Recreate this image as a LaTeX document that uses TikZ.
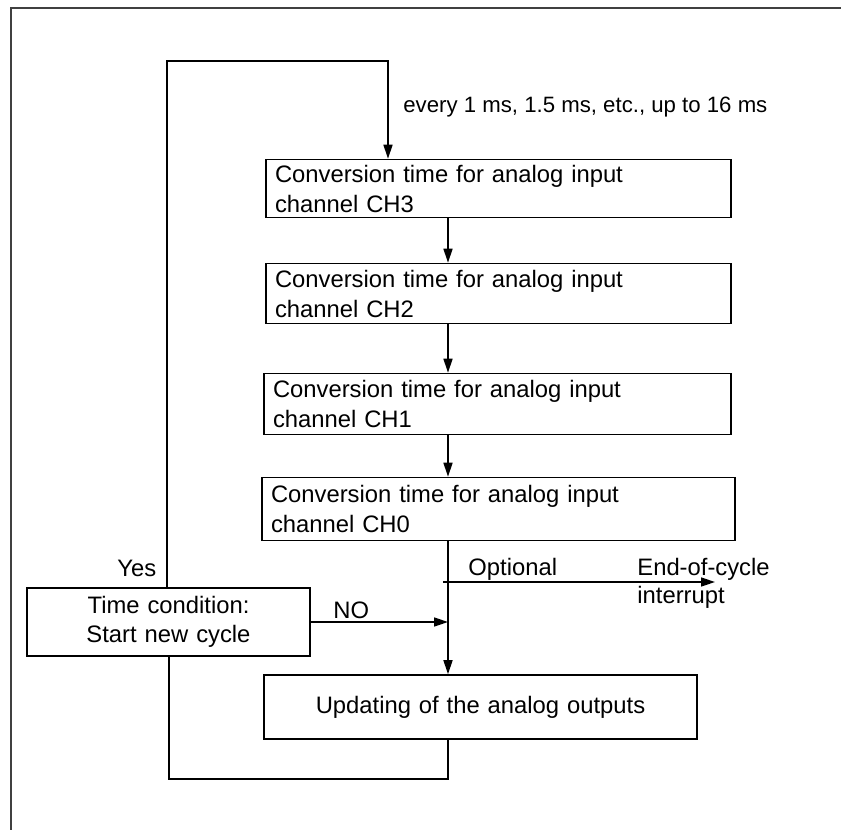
\documentclass[tikz,border=0pt]{standalone}
\usepackage{fontspec}
\setmainfont{Liberation Sans}
\usetikzlibrary{arrows.meta}
\newcommand\flowfont{\fontsize{11.9}{15}\selectfont}
\tikzset{
  stage/.style={draw, rectangle, line width=0.8pt, inner xsep=4.5pt, inner ysep=0pt, font=\flowfont},
  flow/.style={line width=0.8pt, -{Triangle[length=7pt,width=4.5pt]}},
  wire/.style={line width=0.8pt},
  lbl/.style={inner sep=0pt, anchor=base west, font=\flowfont},
}
\begin{document}
\begin{tikzpicture}[x=0.5pt, y=-0.5pt]
  \useasboundingbox (0,0) rectangle (841,830);
  % open frame (top and left edges)
  \draw[line width=1pt, black!75] (841,7.5) -- (10.5,7.5) -- (10.5,830);

  % conversion stages
  \node[stage, align=left, text width=223.5pt, minimum height=29pt] (ch3) at (498.5,188.5)
    {Conversion time for analog input\\channel CH3};
  \node[stage, align=left, text width=223.5pt, minimum height=30pt] (ch2) at (498.5,293.5)
    {Conversion time for analog input\\channel CH2};
  \node[stage, align=left, text width=224.5pt, minimum height=30.5pt] (ch1) at (497.5,404)
    {Conversion time for analog input\\channel CH1};
  \node[stage, align=left, text width=227.5pt, minimum height=31.5pt] (ch0) at (498.5,509)
    {Conversion time for analog input\\channel CH0};
  \node[stage, align=center, text width=132.5pt, minimum height=34pt,
        font=\fontsize{11.9}{14.2}\selectfont] (time) at (168.5,622)
    {Time condition:\\Start new cycle};
  \node[stage, align=center, text width=207.5pt, minimum height=32pt] (update) at (480.5,707)
    {Updating of the analog outputs};

  % routing points
  \coordinate (spine) at (448,0);
  \coordinate (loopL) at (167,61);
  \coordinate (loopR) at (388,61);
  \coordinate (botR) at (448,779);
  \coordinate (botL) at (169,779);
  \coordinate (optStart) at (443,582);
  \coordinate (irq) at (715,582);

  % main chain
  \draw[flow] (ch3.south -| spine) -- (ch2.north -| spine);
  \draw[flow] (ch2.south -| spine) -- (ch1.north -| spine);
  \draw[flow] (ch1.south -| spine) -- (ch0.north -| spine);
  \draw[flow] (ch0.south -| spine) -- (update.north -| spine);

  % "Yes" loop back to the first stage
  \draw[flow] (time.north -| loopL) -- (loopL) -- (loopR) -- (ch3.north -| loopR);
  % "NO" branch into the chain
  \draw[flow] (time.east) -- (time.east -| spine);
  % return from the outputs to the time condition
  \draw[wire] (update.south -| botR) -- (botR) -- (botL) -- (time.south -| botL);
  % optional end-of-cycle interrupt
  \draw[flow] (optStart) -- (irq);

  % labels
  \node[lbl, font=\fontsize{11.1}{14}\selectfont] (every) at (403,112) {every 1 ms, 1.5 ms, etc., up to 16 ms};
  \node[lbl] (yes) at (117,576) {Yes};
  \node[lbl] (no) at (333,618) {NO};
  \node[lbl] (opt) at (468,575) {Optional};
  \node[lbl] (eoc1) at (637,575) {End-of-cycle};
  \node[lbl] (eoc2) at (637,603) {interrupt};
\end{tikzpicture}
\end{document}
